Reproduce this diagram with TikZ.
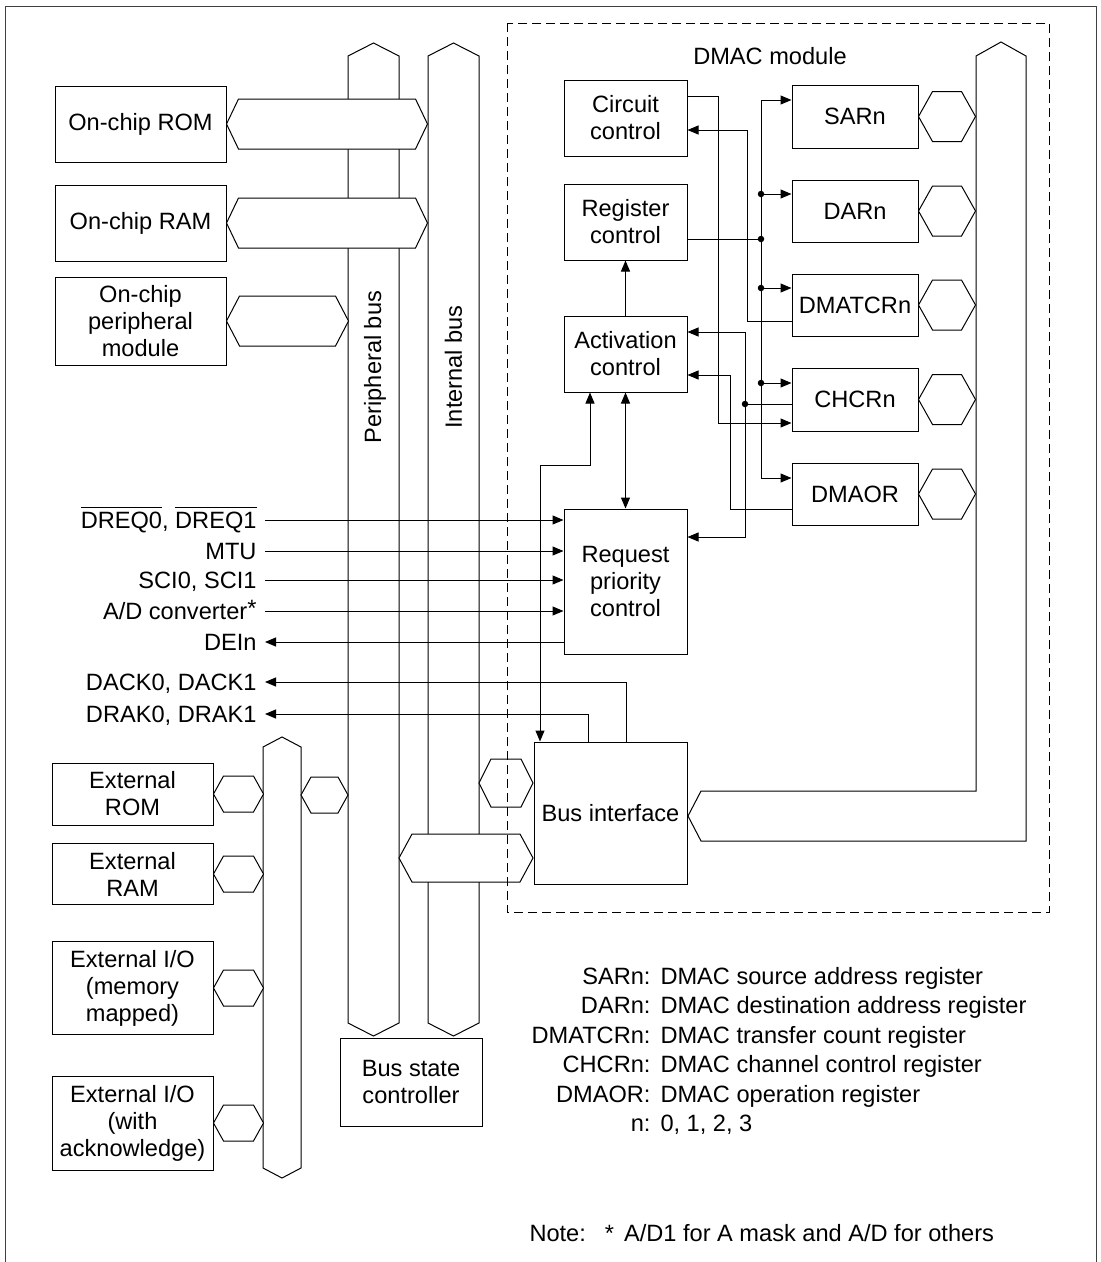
\documentclass[tikz,border=0pt]{standalone}
\usepackage{fontspec}
\setmainfont{Liberation Sans}
\usepackage{tikz}
\usetikzlibrary{arrows.meta,calc}
\newcommand{\dmafont}{\fontsize{23.6}{27}\selectfont}
\newcommand{\ovl}[1]{\leavevmode\vbox{\hrule height 1pt\kern 4pt\hbox{#1}}}
% double-ended bus link: start point, length, half height, indent
\newcommand{\hexlink}[4]{%
  \filldraw[fill=white] #1 -- ++(#4,-#3) -- ++(#2-2*#4,0) -- ++(#4,#3)
    -- ++(-#4,#3) -- ++(2*#4-#2,0) -- cycle;}
% vertical bus: left x, right x, top y, bottom y, tip
\newcommand{\vbus}[5]{%
  \draw (#1,#3) -- ({(#1+#2)/2},#3-#5) -- (#2,#3) -- (#2,#4)
    -- ({(#1+#2)/2},#4+#5) -- (#1,#4) -- cycle;}

\begin{document}
\begin{tikzpicture}[x=1pt,y=-1pt,line width=1pt,>={Triangle[length=11pt,width=9pt]},
  blk/.style={draw,fill=white,align=center,inner sep=1pt,font=\dmafont},
  sig/.style={anchor=east,inner sep=0pt,text height=20pt,text depth=3pt,font=\dmafont},
  lgd/.style={inner sep=0pt,text height=20pt,text depth=3pt,font=\dmafont},
  jn/.style={circle,fill,inner sep=0pt,minimum size=6.5pt}]
  \useasboundingbox (0,0) rectangle (1101,1262);
  \draw[black!75] (5,1262) -- (5,6) -- (1096,6) -- (1096,1262);

  % buses
  \vbus{348}{399}{56}{1023}{13}
  \vbus{428}{479}{56}{1023}{13}
  \vbus{263}{301}{747}{1168}{10}
  \draw (976,56) -- (1001,42) -- (1026,56) -- (1026,841) -- (701,841)
    -- (688,816) -- (701,791) -- (976,791) -- cycle;
  \node[rotate=90,font=\dmafont] (perlab) at (375,367) {Peripheral bus};
  \node[rotate=90,font=\dmafont] (intlab) at (453.5,367) {Internal bus};

  % on-chip and external blocks
  \node[blk,minimum width=171pt,minimum height=76pt] (onrom) at (140.5,124) {On-chip ROM};
  \node[blk,minimum width=171pt,minimum height=76pt] (onram) at (140.5,223) {On-chip RAM};
  \node[blk,minimum width=171pt,minimum height=88pt] (onper) at (140.5,321) {On-chip\\peripheral\\module};
  \node[blk,minimum width=161pt,minimum height=62pt] (exrom) at (132.5,794) {External\\ROM};
  \node[blk,minimum width=161pt,minimum height=61pt] (exram) at (132.5,874) {External\\RAM};
  \node[blk,minimum width=161pt,minimum height=93pt] (exio) at (132.5,988) {External I/O\\(memory\\mapped)};
  \node[blk,minimum width=161pt,minimum height=94pt] (exack) at (132.5,1123) {External I/O\\(with\\acknowledge)};
  \node[blk,minimum width=142pt,minimum height=88pt] (bsc) at (411,1082) {Bus state\\controller};

  % DMAC blocks
  \node[font=\dmafont] (dmaclab) at (770,56) {DMAC module};
  \node[blk,minimum width=123pt,minimum height=76pt] (circ) at (625.5,118) {Circuit\\control};
  \node[blk,minimum width=123pt,minimum height=76pt] (regc) at (625.5,222) {Register\\control};
  \node[blk,minimum width=123pt,minimum height=76pt] (actc) at (625.5,354) {Activation\\control};
  \node[blk,minimum width=123pt,minimum height=145pt] (reqc) at (625.5,581.5) {Request\\priority\\control};
  \node[blk,minimum width=153pt,minimum height=142pt] (busif) at (610.5,813) {Bus interface};
  \node[blk,minimum width=126pt,minimum height=63pt] (sar) at (855,116.5) {SARn};
  \node[blk,minimum width=126pt,minimum height=62pt] (dar) at (855,211) {DARn};
  \node[blk,minimum width=126pt,minimum height=62pt] (dmatcr) at (855,305) {DMATCRn};
  \node[blk,minimum width=126pt,minimum height=63pt] (chcr) at (855,399.5) {CHCRn};
  \node[blk,minimum width=126pt,minimum height=62pt] (dmaor) at (855,494) {DMAOR};

  % bus links
  \hexlink{(onrom.east)}{201}{25}{12}
  \hexlink{(onram.east)}{201}{25}{12}
  \hexlink{(onper.east)}{122}{25}{13}
  \foreach \r in {exrom,exram,exio,exack} {\hexlink{(\r.east)}{50}{18}{10}}
  \hexlink{(301,795)}{47}{18}{10}
  \hexlink{(479,783)}{54}{24}{12}
  \hexlink{(399,858)}{134}{24}{13}
  \foreach \r in {sar,dar,dmatcr,chcr,dmaor} {\hexlink{(\r.east)}{57}{25}{14}}

  % request and acknowledge signals
  \node[sig] (dreq) at (257,520) {\ovl{DREQ0}, \ovl{DREQ1}};
  \node[sig] (mtu) at (257,551) {MTU};
  \node[sig] (sci) at (257,580) {SCI0, SCI1};
  \node[sig] (adc) at (257,611) {A/D converter\raisebox{3pt}{*}};
  \node[sig] (dei) at (257,642) {DEIn};
  \node[sig] (dack) at (257,682) {DACK0, DACK1};
  \node[sig] (drak) at (257,714) {DRAK0, DRAK1};
  \foreach \s in {dreq,mtu,sci,adc}
    \draw[->] ([xshift=8pt]\s.east) -- (\s -| reqc.west);
  \draw[<-] ([xshift=8pt]dei.east) -- (dei -| reqc.west);
  \draw[->] (busif.north -| 626,0) |- ([xshift=8pt]dack.east);
  \draw[->] (busif.north -| 588,0) |- ([xshift=8pt]drak.east);

  % DMAC internal paths
  \draw[->] (actc) -- (regc);
  \draw[<->] (actc) -- (reqc);
  \draw[<->] (actc.south -| 590,0) |- (540,465) -- (busif.north -| 540,0);
  \draw[->] (circ.east |- 0,96) -| (718,423) -- (chcr.west |- 0,423);
  \draw[->] (dmatcr.west |- 0,321) -| (747,130) -- (circ.east |- 0,130);
  \draw[<->] (sar.west |- 0,100) -| (761,478) -- (dmaor.west |- 0,478);
  \foreach \r/\yy in {dar/194,dmatcr/288,chcr/383} {
    \draw[->] (761,\yy) -- (\r.west |- 0,\yy);
    \node[jn] (j\r) at (761,\yy) {};
  }
  \draw (regc.east |- 0,239) -- (761,239) node[jn] (jreg) {};
  \draw (chcr.west |- 0,404) -- (745,404) node[jn] (jch) {};
  \draw[<->] (actc.east |- 0,332) -| (745,537) -- (reqc.east |- 0,537);
  \draw[->] (dmaor.west |- 0,509) -| (730,375) -- (actc.east |- 0,375);

  \draw[dash pattern=on 9pt off 5pt] (507,23) rectangle (1049,912);

  % legend
  \foreach \nm/\ds [count=\i] in {SARn/DMAC source address register,
      DARn/DMAC destination address register,DMATCRn/DMAC transfer count register,
      CHCRn/DMAC channel control register,DMAOR/DMAC operation register,n/{0, 1, 2, 3}} {
    \node[lgd,anchor=east] (lgk\i) at (651,{976+29.4*(\i-1)}) {\nm:};
    \node[lgd,anchor=west] (lgv\i) at (660,{976+29.4*(\i-1)}) {\ds};
  }
  \node[lgd,anchor=west] (note) at (529,1233) {Note:\hspace{19pt}*\hspace{10pt}A/D1 for A mask and A/D for others};
\end{tikzpicture}
\end{document}
